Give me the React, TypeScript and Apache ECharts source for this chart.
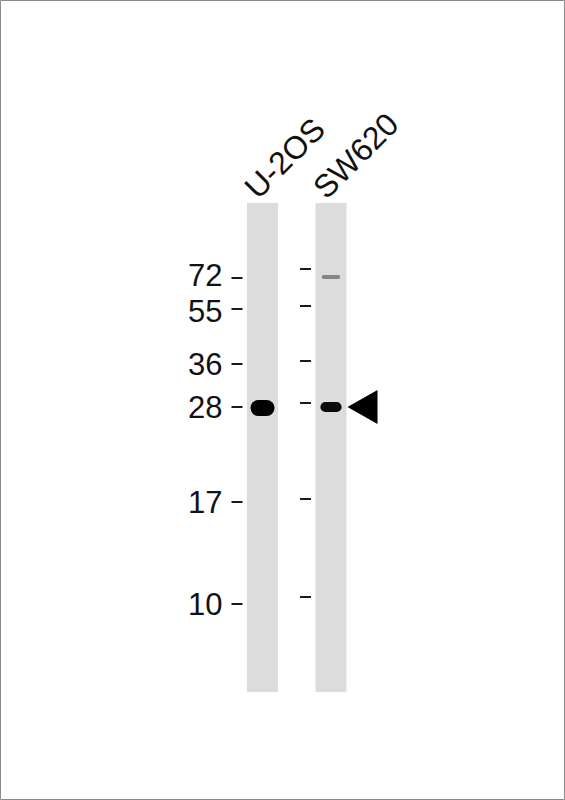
import React, { useEffect, useRef } from 'react';
import * as echarts from 'echarts';

// Western blot: lanes, marker ladders and detected bands
const lanes = ['U-2OS', 'SW620'];
const markerWeights = [72, 55, 36, 28, 17, 10];
// migration distance from the well (top of lane), px
const ladderLeft = [75, 106, 161, 204, 299, 401];
const ladderRight = [66, 103, 158, 200, 296, 394];
const laneLength = 489;

// bands: lane index, migration, relative signal
const bandLane = [0, 1, 1];
const bandMigration = [205, 204, 74];
const bandSignal = [1, 0.55, 0.08];

// arrow marks the target band
const arrowLane = 1;
const arrowMigration = 204;

const LANE_HALF = 0.226;
const FONT = 'Liberation Sans, Arial, Helvetica, sans-serif';
const LABEL_GAP = 36;

// spread marker labels apart so neighbouring texts don't collide
const spreadLabels = (ys: number[]) => {
	const out = ys.slice();
	for (let k = 0; k < 10; k++) {
		for (let i = 0; i < out.length - 1; i++) {
			const diff = out[i + 1] - out[i];
			if (diff < LABEL_GAP) {
				const d = (LABEL_GAP - diff) / 2;
				out[i] -= d;
				out[i + 1] += d;
			}
		}
	}
	return out;
};

const App: React.FC = () => {
	const chartRef = useRef<HTMLDivElement>(null);

	useEffect(() => {
		if (!chartRef.current) return;
		const chart = echarts.init(chartRef.current, null, { renderer: 'svg' });

		const laneData = lanes.map((name, i) => [i, 0, name]);
		const tickData: number[][] = [];
		ladderLeft.forEach((m, i) => tickData.push([0, m, markerWeights[i], i]));
		ladderRight.forEach((m, i) => tickData.push([1, m, markerWeights[i], i]));
		const bandData = bandLane.map((l, i) => [l, bandMigration[i], bandSignal[i]]);

		const option: echarts.EChartsOption = {
			animation: false,
			backgroundColor: '#ffffff',
			grid: { left: 194, top: 203, width: 205.5, height: laneLength },
			xAxis: { type: 'value', min: -1, max: 2, show: false },
			yAxis: { type: 'value', min: 0, max: laneLength, inverse: true, show: false },
			graphic: [
				{
					type: 'rect',
					shape: { x: 0.5, y: 0.5, width: 564, height: 799 },
					style: { fill: 'none', stroke: '#8a8a8a', lineWidth: 1 },
					silent: true
				}
			],
			series: [
				{
					// lanes
					type: 'custom',
					silent: true,
					data: laneData,
					renderItem: (params: any, api: any) => {
						const lane = api.value(0);
						const tl = api.coord([lane - LANE_HALF, 0]);
						const br = api.coord([lane + LANE_HALF, laneLength]);
						return {
							type: 'rect',
							shape: { x: tl[0], y: tl[1], width: br[0] - tl[0], height: br[1] - tl[1] },
							style: { fill: '#dcdcdc' }
						};
					}
				},
				{
					// lane names
					type: 'custom',
					silent: true,
					data: laneData,
					renderItem: (params: any, api: any) => {
						const lane = api.value(0);
						const c = api.coord([lane, 0]);
						return {
							type: 'text',
							x: c[0] - 1,
							y: c[1] + 1,
							rotation: Math.PI / 4,
							style: {
								text: lanes[lane],
								fill: '#111',
								font: `32px ${FONT}`,
								align: 'left',
								verticalAlign: 'bottom'
							}
						};
					}
				},
				{
					// marker ticks + weights on the first ladder
					type: 'custom',
					silent: true,
					data: tickData,
					renderItem: (params: any, api: any) => {
						const lane = api.value(0);
						const c = api.coord([lane, api.value(1)]);
						const children: any[] = [
							{
								type: 'line',
								shape: { x1: c[0] - 31, y1: c[1], x2: c[0] - 20, y2: c[1] },
								style: { stroke: '#1a1a1a', lineWidth: 2 }
							}
						];
						if (lane === 0) {
							const ys = spreadLabels(ladderLeft.map(m => api.coord([0, m])[1]));
							children.push({
								type: 'text',
								x: c[0] - 40,
								y: ys[api.value(3)],
								style: {
									text: String(api.value(2)),
									fill: '#111',
									font: `31px ${FONT}`,
									align: 'right',
									verticalAlign: 'middle'
								}
							});
						}
						return { type: 'group', children };
					}
				},
				{
					// bands
					type: 'custom',
					silent: true,
					data: bandData,
					renderItem: (params: any, api: any) => {
						const lane = api.value(0);
						const s = api.value(2);
						const c = api.coord([lane, api.value(1)]);
						const h = 3 + 13 * s;
						const w = 18 + 6 * s;
						const g = Math.round(110 * Math.pow(1 - s, 3));
						return {
							type: 'rect',
							shape: { x: c[0] - w / 2, y: c[1] - h / 2, width: w, height: h, r: h / 2 },
							style: { fill: `rgb(${g},${g},${g})`, opacity: s < 0.2 ? 0.65 : 1 }
						};
					}
				},
				{
					// arrow
					type: 'custom',
					silent: true,
					data: [[arrowLane, arrowMigration]],
					renderItem: (params: any, api: any) => {
						const lane = api.value(0);
						const edge = api.coord([lane + LANE_HALF, api.value(1)]);
						const tipX = edge[0] + 1;
						const y = edge[1];
						return {
							type: 'polygon',
							shape: { points: [[tipX, y], [tipX + 30, y - 17], [tipX + 30, y + 17]] },
							style: { fill: '#000' }
						};
					}
				}
			]
		};

		chart.setOption(option);

		return () => {
			chart.dispose();
		};
	}, []);

	return (
		<div
			ref={chartRef}
			style={{ position: 'absolute', left: 0, top: 0, width: '565px', height: '800px' }}
		/>
	);
};

export default App;
